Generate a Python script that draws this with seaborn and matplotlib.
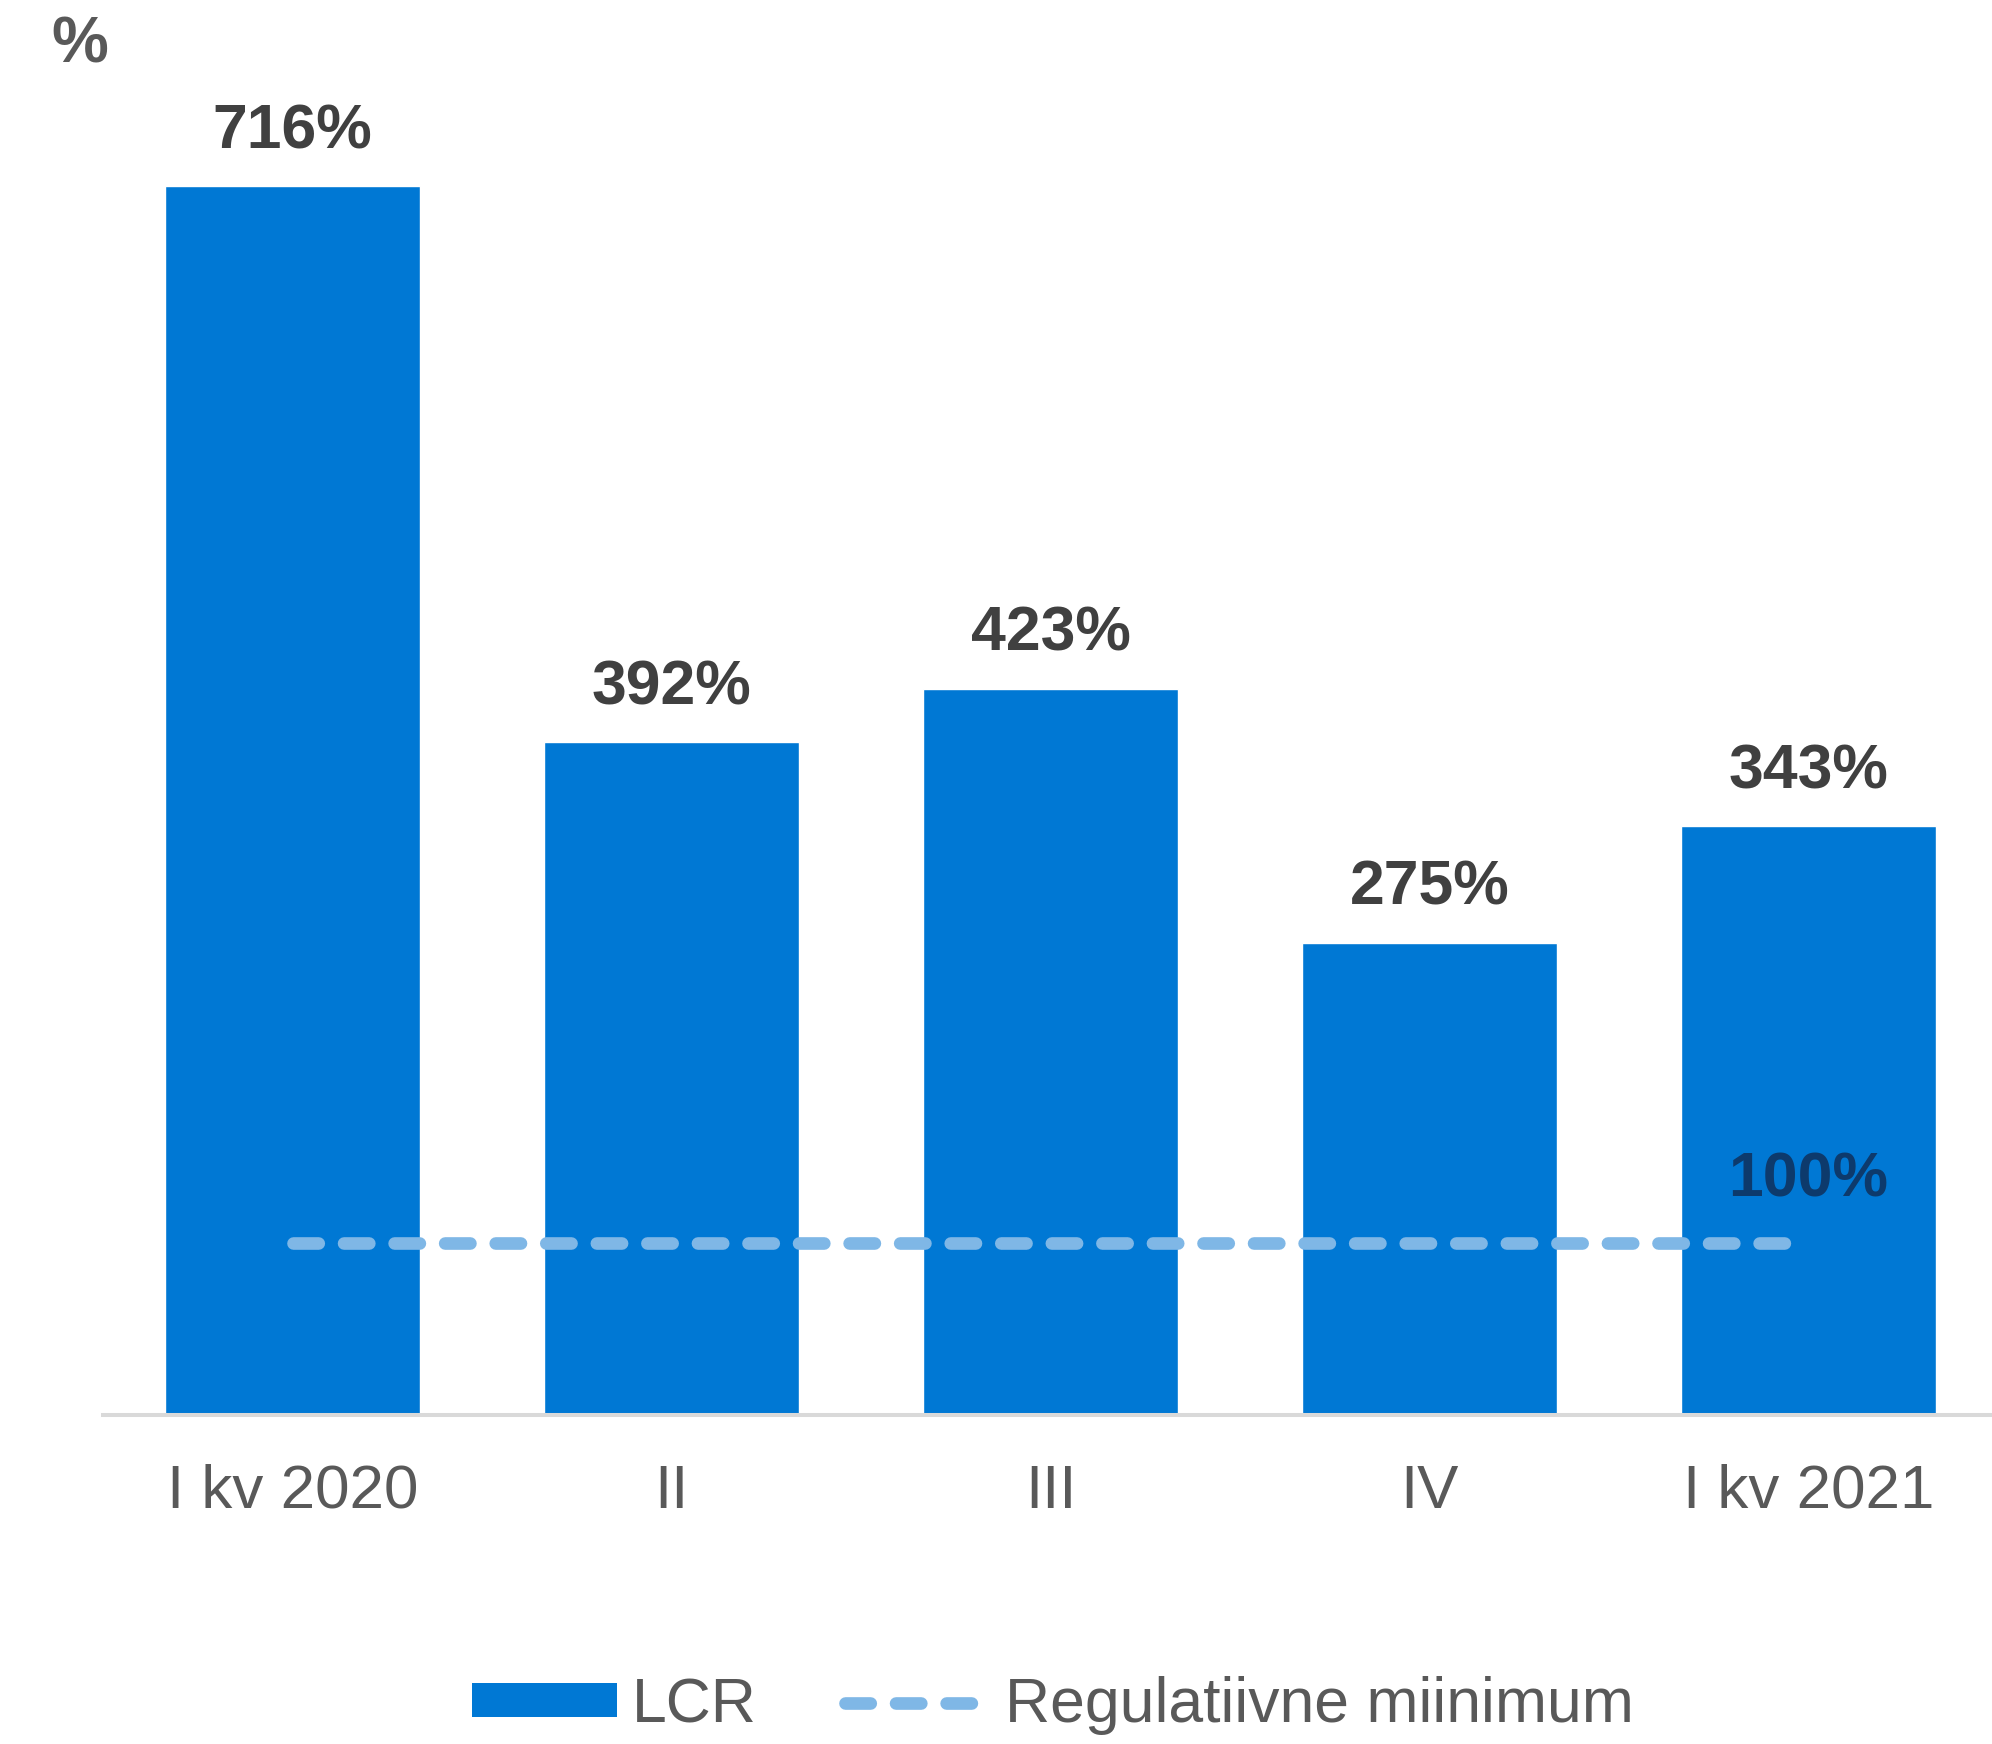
import matplotlib
matplotlib.use("Agg")
import matplotlib.pyplot as plt
import seaborn as sns
import pandas as pd
from matplotlib.patches import Patch
from matplotlib.lines import Line2D

categories = ["I kv 2020", "II", "III", "IV", "I kv 2021"]
lcr = [716, 392, 423, 275, 343]
minimum = [100, 100, 100, 100, 100]
labels = ["716%", "392%", "423%", "275%", "343%"]
min_label = "100%"

sns.set_theme(style="white")
plt.rcParams["font.family"] = ["Liberation Sans", "DejaVu Sans"]

BAR = "#0078d4"
LINE = "#7fb7e6"
LABEL = "#404040"
TICK = "#595959"

fig = plt.figure(figsize=(19.92, 17.44), dpi=100)
ax = fig.add_axes([103/1992, 1-1415/1744, 1895/1992, 1373/1744])

df = pd.DataFrame({"cat": categories, "LCR": lcr, "min": minimum})
sns.barplot(data=df, x="cat", y="LCR", color=BAR, saturation=1, width=0.674, ax=ax)

xs = list(range(len(categories)))
ax.plot(xs, minimum, color=LINE, linewidth=9.1, linestyle=(0, (2.0, 2.0)),
        dash_capstyle="round", solid_capstyle="round", zorder=3)

for i, (v, t) in enumerate(zip(lcr, labels)):
    ax.annotate(t, (i, v), xytext=(0, 27.4), textcoords="offset points",
                ha="center", va="baseline", fontsize=45, fontweight="bold", color=LABEL)

ax.annotate(min_label, (xs[-1], minimum[-1]), xytext=(0, 34), textcoords="offset points",
            ha="center", va="baseline", fontsize=45, fontweight="bold", color="#0d3a6c", zorder=4)

ax.set_xlim(-0.5, 4.5)
ax.set_ylim(0, 800)
ax.set_xlabel("")
ax.set_ylabel("")
ax.set_yticks([])
ax.tick_params(axis="x", length=0, pad=35, labelsize=44.6, labelcolor=TICK)
for s in ["top", "right", "left"]:
    ax.spines[s].set_visible(False)
ax.spines["bottom"].set_color("#d9d9d9")
ax.spines["bottom"].set_linewidth(2.9)

fig.text(0.04, 0.991, "%", ha="center", va="top", fontsize=46, fontweight="bold", color=TICK)

handles = [Patch(facecolor=BAR, edgecolor="none", label="LCR"),
           Line2D([0], [0], color=LINE, linewidth=9.1, linestyle=(0, (2.0, 2.0)),
                  dash_capstyle="round", label="Regulatiivne miinimum")]
leg = fig.legend(handles=handles, loc="center", bbox_to_anchor=(0.5285, 0.022), ncol=2,
                 frameon=False, fontsize=45, handlelength=2.32, handleheight=0.45,
                 handletextpad=0.24, columnspacing=1.4, borderaxespad=0, borderpad=0)
for t in leg.get_texts():
    t.set_color(TICK)

fig.savefig("out.png", dpi=100)
